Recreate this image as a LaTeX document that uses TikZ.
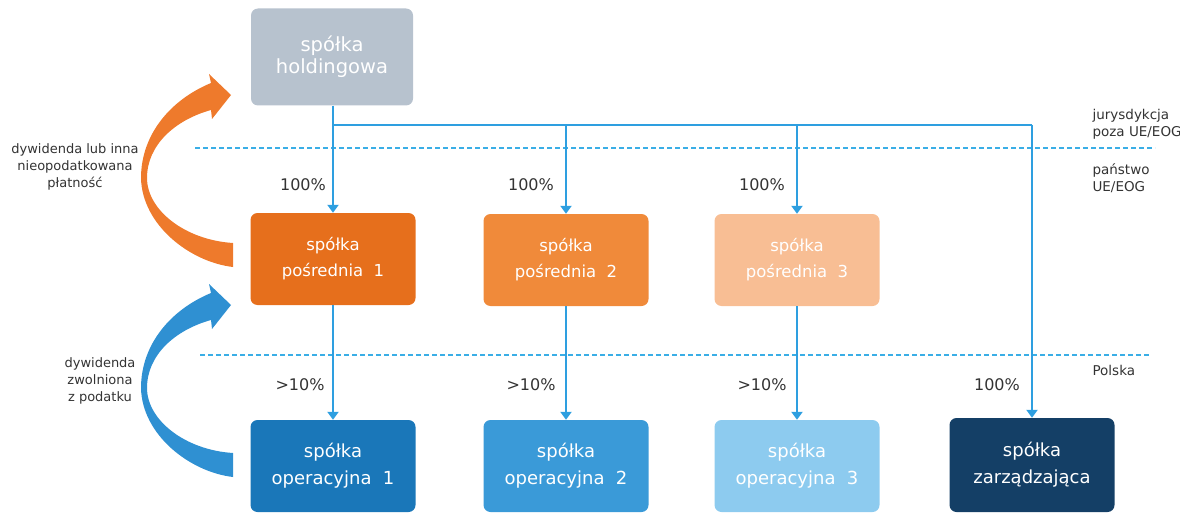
\documentclass[tikz,border=0pt]{standalone}
\usepackage{fontspec}
\setmainfont{DejaVu Sans}
\usetikzlibrary{arrows.meta}
\definecolor{linkblue}{HTML}{2E9FE0}
\definecolor{dashblue}{HTML}{3AAEE6}
\definecolor{holdgray}{HTML}{B7C2CE}
\definecolor{orA}{HTML}{E66F1C}
\definecolor{orB}{HTML}{F08A3A}
\definecolor{orC}{HTML}{F8BE94}
\definecolor{blA}{HTML}{1A77B9}
\definecolor{blB}{HTML}{3A9AD8}
\definecolor{blC}{HTML}{8DCBEF}
\definecolor{navy}{HTML}{143F66}
\definecolor{txt}{HTML}{333333}
\definecolor{bendor}{HTML}{EE7A2C}
\definecolor{bendbl}{HTML}{2F90D2}
\tikzset{
  company/.style={rounded corners=7pt, minimum width=165pt, minimum height=92pt,
    align=center, text=white, inner sep=0pt},
  midrow/.style={company, font=\fontsize{16.5}{26}\selectfont},
  lowrow/.style={company, font=\fontsize{18}{27}\selectfont},
  share/.style={text=txt, font=\fontsize{16}{19}\selectfont},
  zone/.style={text=txt, align=left, anchor=west, font=\fontsize{13.5}{17}\selectfont},
  sidenote/.style={text=txt, align=center, font=\fontsize{13}{17}\selectfont},
  link/.style={linkblue, line width=2.4pt, -{Triangle[width=11pt,length=8pt]}},
  bus/.style={linkblue, line width=2.4pt},
  border/.style={dashblue, line width=1.6pt, dash pattern=on 5pt off 3pt},
}
% a bent dividend arrow: tail at the right, sweeping left and back up to the head
\def\bentarrow{(233,267) .. controls (190,262) and (142,225) .. (141,178)
  .. controls (141,135) and (170,100) .. (211,83)
  -- (209,74) -- (231,95) -- (212,119) -- (211,110)
  .. controls (175,120) and (147,145) .. (147,178)
  .. controls (147,210) and (185,240) .. (233,243) -- cycle}
\begin{document}
\begin{tikzpicture}[x=1pt, y=-1pt]
\useasboundingbox (0,0) rectangle (1180,516);

% jurisdiction borders
\draw[border] (195,148) -- (1155,148);
\draw[border] (200,355) -- (1150,355);

% companies
\node[company, fill=holdgray, minimum width=162pt, minimum height=97pt,
  font=\fontsize{19.5}{22}\selectfont] (hold) at (332,57) {spółka\\holdingowa};
\node[midrow, fill=orA] (p1) at (333,259) {spółka\\pośrednia\ \ 1};
\node[midrow, fill=orB] (p2) at (566,260) {spółka\\pośrednia\ \ 2};
\node[midrow, fill=orC] (p3) at (797,260) {spółka\\pośrednia\ \ 3};
\node[lowrow, fill=blA] (o1) at (333,466) {spółka\\operacyjna\ \ 1};
\node[lowrow, fill=blB] (o2) at (566,466) {spółka\\operacyjna\ \ 2};
\node[lowrow, fill=blC] (o3) at (797,466) {spółka\\operacyjna\ \ 3};
\node[lowrow, fill=navy, minimum height=94pt] (z) at (1032,465) {spółka\\zarządzająca};

% ownership links
\coordinate (busline) at (0,125);
\draw[bus] (hold.south -| p1.north) -- (p1.north |- busline) -- (z.north |- busline);
\draw[link] (p1.north |- busline) -- (p1.north);
\draw[link] (p2.north |- busline) -- (p2.north);
\draw[link] (p3.north |- busline) -- (p3.north);
\draw[link] (z.north |- busline) -- (z.north);
\draw[link] (p1.south) -- (o1.north);
\draw[link] (p2.south) -- (o2.north);
\draw[link] (p3.south) -- (o3.north);

% shares
\node[share] (s1) at (303,185) {100\%};
\node[share] (s2) at (531,185) {100\%};
\node[share] (s3) at (762,185) {100\%};
\node[share] (s4) at (300,385) {>10\%};
\node[share] (s5) at (531,385) {>10\%};
\node[share] (s6) at (762,385) {>10\%};
\node[share] (s7) at (997,385) {100\%};

% zones
\node[zone] (zn1) at (1089,124) {jurysdykcja\\poza UE/EOG};
\node[zone] (zn2) at (1089,178) {państwo\\UE/EOG};
\node[zone] (zn3) at (1089,370) {Polska};

% dividend flows
\fill[bendor] \bentarrow;
\begin{scope}[yshift=-210pt]
\fill[bendbl] \bentarrow;
\end{scope}
\node[sidenote] (n1) at (75,167) {dywidenda lub inna\\nieopodatkowana\\płatność};
\node[sidenote] (n2) at (100,381) {dywidenda\\zwolniona\\z podatku};
\end{tikzpicture}
\end{document}
